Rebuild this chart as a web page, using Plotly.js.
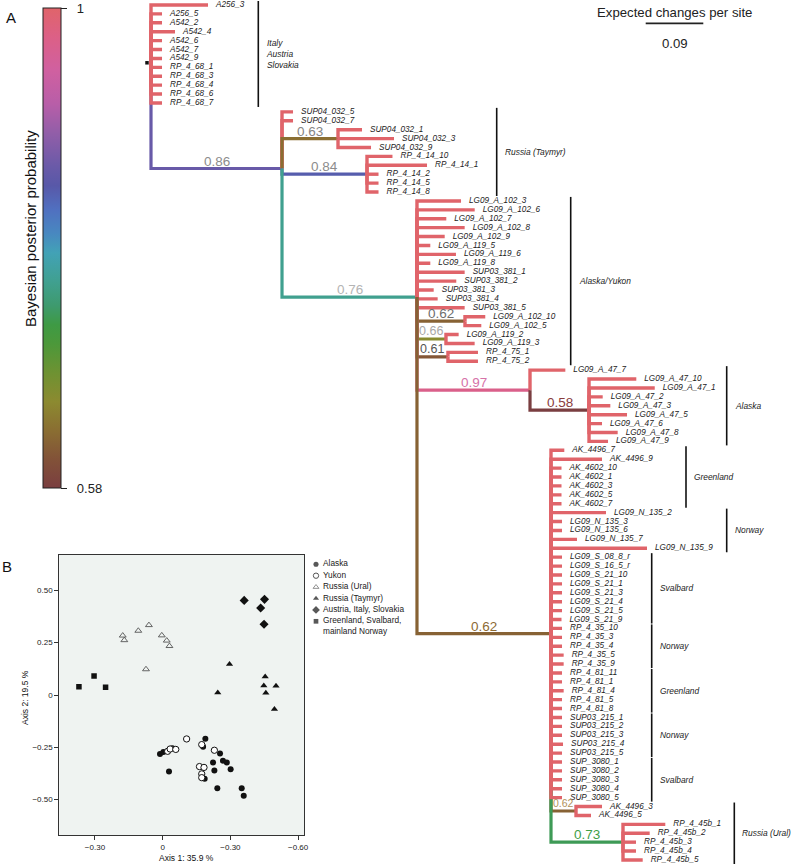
<!DOCTYPE html>
<html><head><meta charset="utf-8">
<script src="https://cdn.plot.ly/plotly-3.0.1.min.js"></script>
<style>html,body{margin:0;padding:0;background:#fff}</style>
</head><body>
<div id="chart" style="width:791px;height:866px"></div>
<script>
// ================= DATA =================
// Tips of the Bayesian tree, in display order (top to bottom)
const tipNames = [
 'A256_3','A256_5','A542_2','A542_4','A542_6','A542_7','A542_9','RP_4_68_1','RP_4_68_3','RP_4_68_4','RP_4_68_6','RP_4_68_7',
 'SUP04_032_5','SUP04_032_7','SUP04_032_1','SUP04_032_3','SUP04_032_9',
 'RP_4_14_10','RP_4_14_1','RP_4_14_2','RP_4_14_5','RP_4_14_8',
 'LG09_A_102_3','LG09_A_102_6','LG09_A_102_7','LG09_A_102_8','LG09_A_102_9','LG09_A_119_5','LG09_A_119_6','LG09_A_119_8',
 'SUP03_381_1','SUP03_381_2','SUP03_381_3','SUP03_381_4','SUP03_381_5',
 'LG09_A_102_10','LG09_A_102_5','LG09_A_119_2','LG09_A_119_3','RP_4_75_1','RP_4_75_2',
 'LG09_A_47_7','LG09_A_47_10','LG09_A_47_1','LG09_A_47_2','LG09_A_47_3','LG09_A_47_5','LG09_A_47_6','LG09_A_47_8','LG09_A_47_9',
 'AK_4496_7','AK_4496_9','AK_4602_10','AK_4602_1','AK_4602_3','AK_4602_5','AK_4602_7',
 'LG09_N_135_2','LG09_N_135_3','LG09_N_135_6','LG09_N_135_7','LG09_N_135_9',
 'LG09_S_08_8_r','LG09_S_16_5_r','LG09_S_21_10','LG09_S_21_1','LG09_S_21_3','LG09_S_21_4','LG09_S_21_5','LG09_S_21_9',
 'RP_4_35_10','RP_4_35_3','RP_4_35_4','RP_4_35_5','RP_4_35_9',
 'RP_4_81_11','RP_4_81_1','RP_4_81_4','RP_4_81_5','RP_4_81_8',
 'SUP03_215_1','SUP03_215_2','SUP03_215_3','SUP03_215_4','SUP03_215_5',
 'SUP_3080_1','SUP_3080_2','SUP_3080_3','SUP_3080_4','SUP_3080_5',
 'AK_4496_3','AK_4496_5',
 'RP_4_45b_1','RP_4_45b_2','RP_4_45b_3','RP_4_45b_4','RP_4_45b_5'
];
// terminal branch lengths (expected changes per site)
const tipLengths = [
 0.0891,0.0172,0.0172,0.0375,0.0172,0.0172,0.0172,0.0172,0.0172,0.0172,0.0172,0.0172,
 0.0172,0.0172,0.0375,0.0875,0.0516,
 0.0398,0.0938,0.0180,0.0180,0.0180,
 0.0688,0.0902,0.0458,0.0745,0.0433,0.0208,0.0609,0.0208,
 0.0745,0.0614,0.0261,0.0323,0.0745,
 0.0317,0.0255,0.0198,0.0448,0.0469,0.0469,
 0.0552,0.0739,0.1027,0.0214,0.0333,0.0594,0.0203,0.0448,0.0297,
 0.0208,0.0797,0.0164,0.0164,0.0164,0.0164,0.0164,
 0.0859,0.0172,0.0172,0.0406,0.1500,
 0.0172,0.0172,0.0172,0.0172,0.0172,0.0172,0.0172,0.0164,
 0.0172,0.0172,0.0172,0.0198,0.0198,
 0.0172,0.0172,0.0198,0.0172,0.0172,
 0.0172,0.0172,0.0172,0.0188,0.0172,
 0.0172,0.0172,0.0172,0.0172,0.0172,
 0.0406,0.0234,
 0.0661,0.0417,0.0203,0.0203,0.0308
];
const tipParents = [
 'root','root','root','root','root','root','root','root','root','root','root','root',
 'n086','n086','n063','n063','n063',
 'n084','n084','n084','n084','n084',
 'n076','n076','n076','n076','n076','n076','n076','n076',
 'n076','n076','n076','n076','n076',
 'n062a','n062a','n066','n066','n061','n061',
 'n097','n058','n058','n058','n058','n058','n058','n058','n058',
 'n062b','n062b','n062b','n062b','n062b','n062b','n062b',
 'n062b','n062b','n062b','n062b','n062b',
 'n062b','n062b','n062b','n062b','n062b','n062b','n062b','n062b',
 'n062b','n062b','n062b','n062b','n062b',
 'n062b','n062b','n062b','n062b','n062b',
 'n062b','n062b','n062b','n062b','n062b',
 'n062b','n062b','n062b','n062b','n062b',
 'n062c','n062c',
 'n073','n073','n073','n073','n073'
];
const tipPosterior = 1;
// internal nodes
const nodeIds       = ['root','n086','n063','n084','n076','n062a','n066','n061','n097','n058','n062b','n062c','n073'];
const nodeParents   = [null,'root','n086','n086','n086','n076','n076','n076','n076','n097','n076','n062b','n062b'];
const nodeLengths   = [0,0.2047,0.0875,0.1328,0.2109,0.0750,0.0453,0.0484,0.1766,0.0922,0.2094,0.0391,0.1125];
const nodePosterior = [1,0.86,0.63,0.84,0.76,0.62,0.66,0.61,0.97,0.58,0.62,0.62,0.73];
// nodes whose terminal branches are painted over their sub-clades (original drawing order)
const tipsDrawnLast = ['root','n062b'];
// clade annotations
const cladeNames = ['Italy<br>Austria<br>Slovakia','Russia (Taymyr)','Alaska/Yukon','Alaska','Greenland','Norway','Svalbard','Norway','Greenland','Norway','Svalbard','Russia (Ural)'];
const cladeFirst = ['A256_3','SUP04_032_5','LG09_A_102_3','LG09_A_47_7','AK_4496_7','LG09_N_135_2','LG09_S_08_8_r','RP_4_35_10','RP_4_81_11','SUP03_215_1','SUP_3080_1','AK_4496_3'];
const cladeLast  = ['RP_4_68_7','RP_4_14_8','RP_4_75_2','LG09_A_47_9','AK_4602_7','LG09_N_135_9','LG09_S_21_9','RP_4_35_9','RP_4_81_8','SUP03_215_5','SUP_3080_5','RP_4_45b_5'];
const scaleBarLength = 0.09;
const colorbarRange = [0.58, 1];
const colorbarTickText = ['0.58', '1'];

// PCoA (panel B)
const pcoaGroups = ['Alaska','Yukon','Russia (Ural)','Russia (Taymyr)','Austria, Italy, Slovakia','Greenland, Svalbard,<br>mainland Norway'];
const alaskaX = [0.012,-0.003,-0.043,-0.189,-0.179,-0.254,-0.223,-0.267,-0.284,-0.301,-0.229,-0.186,-0.028,-0.242,-0.350,-0.359];
const alaskaY = [-0.282,-0.272,-0.255,-0.209,-0.247,-0.279,-0.322,-0.314,-0.323,-0.355,-0.361,-0.400,-0.366,-0.446,-0.446,-0.481];
const yukonX = [-0.022,-0.033,-0.058,-0.106,-0.173,-0.229,-0.163,-0.183,-0.173,-0.173];
const yukonY = [-0.269,-0.258,-0.260,-0.210,-0.237,-0.264,-0.342,-0.346,-0.377,-0.395];
const uralX = [0.061,0.108,0.177,0.170,0.004,-0.018,-0.030,0.074];
const uralY = [0.334,0.307,0.284,0.262,0.285,0.260,0.234,0.123];
const taymyrX = [-0.296,-0.244,-0.454,-0.448,-0.457,-0.502,-0.495];
const taymyrY = [0.147,0.011,0.088,0.045,0.010,0.043,-0.068];
const alpsX = [-0.361,-0.451,-0.434,-0.449];
const alpsY = [0.452,0.457,0.416,0.338];
const northX = [0.371,0.304,0.253];
const northY = [0.040,0.091,0.037];
const pcoaXTickVals = [0.3, 0, -0.3, -0.6];
const pcoaXTickText = ['\u22120.30','0','\u22120.30','\u22120.60'];
const pcoaYTickVals = [0.5, 0.25, 0, -0.25, -0.5];
const pcoaYTickText = ['0.50','0.25','0','\u22120.25','\u22120.50'];

// ================= STYLE / LAYOUT =================
const W = 791, H = 866;
const FONT = 'Liberation Sans, Arial, Helvetica, sans-serif';
const rootPx = 151, unitPx = 640, row0Px = 5, rowPx = 8.906;
const dxp = px => (px - rootPx) / unitPx;     // pixel -> tree x
const dyp = py => (py - row0Px) / rowPx;      // pixel -> tree row
const posteriorScale = [
 [0,'#7a3e40'],[0.06,'#825238'],[0.12,'#8a6e32'],[0.18,'#8c8a30'],[0.24,'#6e9232'],
 [0.3,'#4c983a'],[0.34,'#3e9a44'],[0.38,'#3e9a6e'],[0.43,'#40a090'],[0.49,'#42a2b6'],
 [0.53,'#4888c0'],[0.58,'#5070c0'],[0.63,'#5858a8'],[0.67,'#6a5aa8'],[0.74,'#925ea8'],
 [0.8,'#b85ea8'],[0.87,'#d060a0'],[0.94,'#dc6086'],[1,'#e0646a']
];
const labelColors = ['#000','#8c8c8c','#858585','#8c8c8c','#b4b4b4','#6e6e6e','#a8a8a8','#555555','#d672a8','#8a3c3c','#8c6a34','#b0925c','#3fa048'];
const labelSizes  = [0,13.5,13.5,13.5,13.5,13.5,12.5,12.5,13.5,13.5,13.5,10.5,13.5];
const cladeBarPx = [258.3,496.7,570.7,726.7,686,726.7,651.7,651.7,651.7,651.7,651.7,734.3];

function hex2rgb(h){return [1,3,5].map(i=>parseInt(h.substr(i,2),16));}
function colorAt(p){
  const f = Math.max(0, Math.min(1, (p - colorbarRange[0]) / (colorbarRange[1] - colorbarRange[0])));
  for (let i = 1; i < posteriorScale.length; i++) {
    const [f1,c1] = posteriorScale[i];
    if (f <= f1) {
      const [f0,c0] = posteriorScale[i-1];
      const t = (f - f0) / (f1 - f0), a = hex2rgb(c0), b = hex2rgb(c1);
      return 'rgb(' + a.map((v,k)=>Math.round(v + (b[k]-v)*t)).join(',') + ')';
    }
  }
  return posteriorScale[posteriorScale.length-1][1];
}

// ---- tree layout ----
const kids = {};
nodeIds.forEach(id => kids[id] = {tips: [], nodes: []});
tipNames.forEach((t,i) => kids[tipParents[i]].tips.push(i));
nodeIds.forEach((id,i) => { if (nodeParents[i]) kids[nodeParents[i]].nodes.push(id); });
const nodeX = {}, nodeY = {}, tipX = [];
function setX(id, x){
  nodeX[id] = x;
  kids[id].tips.forEach(i => tipX[i] = x + tipLengths[i]);
  kids[id].nodes.forEach(c => setX(c, x + nodeLengths[nodeIds.indexOf(c)]));
}
function setY(id){
  const ys = kids[id].tips.slice();
  kids[id].nodes.forEach(c => ys.push(setY(c)));
  nodeY[id] = ys.reduce((a,b)=>a+b,0) / ys.length;
  return nodeY[id];
}
setX('root', 0); setY('root');

const segs = [];
function drawNode(id){
  const px = nodeX[id], py = nodeY[id];
  const drawTips = () => kids[id].tips.forEach(i => segs.push({x:[px,px,tipX[i]], y:[py,i,i], c:colorAt(tipPosterior), w:3.4}));
  const drawNodes = () => kids[id].nodes.forEach(c => {
    const k = nodeIds.indexOf(c);
    segs.push({x:[px,px,nodeX[c]], y:[py,nodeY[c],nodeY[c]], c:colorAt(nodePosterior[k]), w:3.2});
    drawNode(c);
  });
  if (tipsDrawnLast.includes(id)) { drawNodes(); drawTips(); } else { drawTips(); drawNodes(); }
}
drawNode('root');

const traces = [];
let cur = null;
segs.forEach(s => {
  if (!cur || cur.line.color !== s.c || cur.line.width !== s.w) {
    cur = {type:'scatter', mode:'lines', x:[], y:[], line:{color:s.c, width:s.w}, hoverinfo:'skip', showlegend:false, xaxis:'x', yaxis:'y'};
    traces.push(cur);
  }
  cur.x.push(...s.x, null); cur.y.push(...s.y, null);
});

// root marker
traces.push({type:'scatter', mode:'markers', x:[nodeX.root - 4/unitPx], y:[nodeY.root], marker:{symbol:'square', size:3.5, color:'#111'}, hoverinfo:'skip', showlegend:false, xaxis:'x', yaxis:'y'});

// tip labels
traces.push({type:'scatter', mode:'text', x:tipX.map(v => v + 8/unitPx), y:tipNames.map((t,i)=>i), text:tipNames,
  textposition:'middle right', textfont:{family:FONT, size:8.2, color:'#222', style:'italic'}, cliponaxis:false,
  hoverinfo:'skip', showlegend:false, xaxis:'x', yaxis:'y'});

// colorbar carrier (points lie outside the visible range)
traces.push({type:'scatter', mode:'markers', x:[-5,-5], y:[0,0], xaxis:'x', yaxis:'y', hoverinfo:'skip', showlegend:false,
  marker:{size:1, color:colorbarRange, cmin:colorbarRange[0], cmax:colorbarRange[1], colorscale:posteriorScale, showscale:true,
    colorbar:{x:43/W, xanchor:'left', y:1-8/H, yanchor:'top', len:480, lenmode:'pixels', thickness:18, thicknessmode:'pixels',
      xpad:0, ypad:0, outlinewidth:1, outlinecolor:'#222', borderwidth:0, ticks:'outside', ticklen:6, tickwidth:1, tickcolor:'#222',
      ticklabeloverflow:'allow',
      tickvals:colorbarRange, ticktext:colorbarTickText.map(t=>'\u00a0\u00a0'+t), tickfont:{family:FONT, size:13, color:'#222'}}}});

// PCoA groups
const groupX = [alaskaX, yukonX, uralX, taymyrX, alpsX, northX];
const groupY = [alaskaY, yukonY, uralY, taymyrY, alpsY, northY];
const groupSymbol = ['circle','circle','triangle-up-open','triangle-up','diamond','square'];
const groupColor = ['#111','#fff','#555','#111','#111','#111'];
const groupSize = [6,6.3,6,6.3,7,5.5];
const groupLineW = [0,1,0.9,0,0,0];
pcoaGroups.forEach((g,k) => traces.push({type:'scatter', mode:'markers', name:g, x:groupX[k], y:groupY[k], xaxis:'x2', yaxis:'y2',
  marker:{symbol:groupSymbol[k], size:groupSize[k], color:groupColor[k], line:{color:'#111', width:groupLineW[k]}}, showlegend:false, hoverinfo:'skip'}));

// hand-made legend for panel B
const legFs = 8.3, legRow = 11.4;
traces.push({type:'scatter', mode:'markers', x:pcoaGroups.map(()=>5), y:pcoaGroups.map((g,i)=>i), xaxis:'x3', yaxis:'y3',
  marker:{symbol:groupSymbol, size:groupSize.map(s=>s*0.85), color:groupColor, line:{color:'#111', width:groupLineW}}, showlegend:false, hoverinfo:'skip'});
traces.push({type:'scatter', mode:'text', x:pcoaGroups.map(()=>12), y:pcoaGroups.map((g,i)=>i + (g.split('<br>').length-1)*0.65*legFs/legRow),
  text:pcoaGroups, textposition:'middle right', textfont:{family:FONT, size:legFs, color:'#222'}, cliponaxis:false,
  xaxis:'x3', yaxis:'y3', showlegend:false, hoverinfo:'skip'});

// ---- annotations ----
const ann = [];
nodeIds.forEach((id,k) => {
  if (!nodeParents[k]) return;
  const p = nodeParents[k];
  ann.push({xref:'x', yref:'y', x:(nodeX[p] + nodeX[id]) / 2, y:nodeY[id], text:nodePosterior[k].toFixed(2), showarrow:false,
    xanchor:'center', yanchor:'middle', yshift:7.5, font:{family:FONT, size:labelSizes[k], color:labelColors[k]}});
});
const shapes = [];
cladeNames.forEach((c,k) => {
  const r0 = tipNames.indexOf(cladeFirst[k]) - 0.45, r1 = tipNames.indexOf(cladeLast[k]) + 0.45;
  shapes.push({type:'line', xref:'x', yref:'y', x0:dxp(cladeBarPx[k]), x1:dxp(cladeBarPx[k]), y0:r0, y1:r1, line:{color:'#111', width:1.6}});
  ann.push({xref:'x', yref:'y', x:dxp(cladeBarPx[k]), y:(r0+r1)/2, xanchor:'left', yanchor:'middle', xshift:6, text:c, align:'left', showarrow:false,
    font:{family:FONT, size:8.4, color:'#222', style:'italic'}});
});
// scale bar
const sbX0 = dxp(645.7), sbY = dyp(23.3);
shapes.push({type:'line', xref:'x', yref:'y', x0:sbX0, x1:sbX0 + scaleBarLength, y0:sbY, y1:sbY, line:{color:'#222', width:1.7}});
ann.push({xref:'x', yref:'y', x:sbX0 + scaleBarLength/2, y:dyp(12.7), text:'Expected changes per site', showarrow:false, xanchor:'center', yanchor:'middle', font:{family:FONT, size:13.2, color:'#222'}});
ann.push({xref:'x', yref:'y', x:sbX0 + scaleBarLength/2, y:dyp(43), text:String(scaleBarLength), showarrow:false, xanchor:'center', yanchor:'middle', font:{family:FONT, size:13.2, color:'#222'}});
// panel letters, colorbar title, PCoA axis titles
const paper = (text, px, py, size, extra) => Object.assign({xref:'paper', yref:'paper', x:px/W, y:1-py/H, text, showarrow:false, xanchor:'center', yanchor:'middle', font:{family:FONT, size, color:'#111'}}, extra||{});
ann.push(paper('A', 11, 17, 15));
ann.push(paper('B', 7, 566, 15));
ann.push(paper('Bayesian posterior probability', 30, 229, 15, {textangle:-90}));
ann.push(paper('Axis 1: 35.9 %', 186, 858, 8.5));
ann.push(paper('Axis 2: 19.5 %', 25, 697, 8.5, {textangle:-90}));
// PCoA panel background
shapes.push({type:'rect', xref:'x2 domain', yref:'y2 domain', x0:0, x1:1, y0:0, y1:1, fillcolor:'#eff3f1', line:{width:0}, layer:'below'});

const hidden = {visible:false, fixedrange:true};
const layout = {
  width:W, height:H, margin:{l:0,r:0,t:0,b:0}, paper_bgcolor:'#fff', plot_bgcolor:'rgba(0,0,0,0)', showlegend:false,
  font:{family:FONT, color:'#222'},
  xaxis: Object.assign({domain:[0,1], range:[-rootPx/unitPx, (W-rootPx)/unitPx], anchor:'y'}, hidden),
  yaxis: Object.assign({domain:[0,1], range:[(H-row0Px)/rowPx, -row0Px/rowPx], anchor:'x'}, hidden),
  xaxis2: {domain:[59.3/W, 304/W], anchor:'y2', range:[0.458,-0.626], tickvals:pcoaXTickVals, ticktext:pcoaXTickText,
    ticks:'outside', ticklen:4, tickwidth:1, tickcolor:'#333', showline:true, mirror:true, linecolor:'#333', linewidth:1,
    showgrid:false, zeroline:false, tickfont:{family:FONT, size:8, color:'#222'}},
  yaxis2: {domain:[1-835/H, 1-555/H], anchor:'x2', range:[-0.669,0.669], tickvals:pcoaYTickVals, ticktext:pcoaYTickText,
    ticks:'outside', ticklen:4, tickwidth:1, tickcolor:'#333', showline:true, mirror:true, linecolor:'#333', linewidth:1,
    showgrid:false, zeroline:false, tickfont:{family:FONT, size:8, color:'#222'}},
  xaxis3: Object.assign({domain:[311/W, 430/W], range:[0,119], anchor:'y3'}, hidden),
  yaxis3: Object.assign({domain:[1-645/H, 1-555/H], range:[(645-564.3)/legRow, (555-564.3)/legRow], anchor:'x3'}, hidden),
  annotations: ann, shapes: shapes
};
Plotly.newPlot('chart', traces, layout, {displayModeBar:false, staticPlot:true});
</script>
</body></html>
